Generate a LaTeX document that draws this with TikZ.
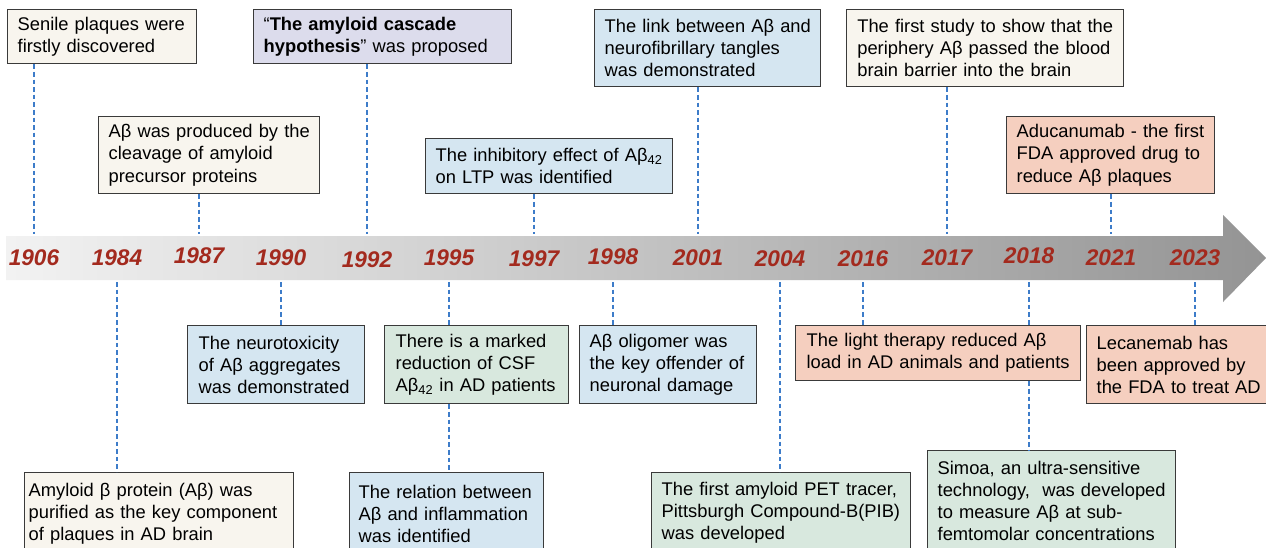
\documentclass[tikz,border=0pt]{standalone}
\usepackage{fontspec}
\setmainfont{Liberation Sans}
\definecolor{cream}{HTML}{F8F5EE}
\definecolor{lavender}{HTML}{DCDCEC}
\definecolor{lblue}{HTML}{D5E6F1}
\definecolor{lgreen}{HTML}{D8E8DE}
\definecolor{salmon}{HTML}{F5CFBF}
\definecolor{bordercol}{HTML}{3A3A3A}
\definecolor{dashblue}{HTML}{3D7CC9}
\definecolor{yearred}{HTML}{A32A1E}
\newcommand\BL[1]{\mbox{#1}}
\begin{document}
\begin{tikzpicture}[x=0.75pt,y=-0.75pt,
  box/.style={draw=bordercol, line width=1pt, anchor=north west, align=left,
    inner ysep=0pt, font=\fontsize{13.75}{16.6}\selectfont},
  year/.style={font=\fontsize{17}{17}\selectfont\bfseries\itshape, text=yearred, inner sep=0pt},
  conn/.style={draw=dashblue, line width=1.1pt, dash pattern=on 3.5pt off 2.2pt}]
\useasboundingbox (0,0) rectangle (1266,547);
\fill[white] (0,0) rectangle (1266,547);
% arrow
\shade[left color=black!5, right color=black!42]
  (6,236) -- (1223,236) -- (1223,215) -- (1266,258) -- (1223,302) -- (1223,280) -- (6,280) -- cycle;
\coordinate (atop) at (0,234);
\coordinate (abot) at (0,282);
% years
\node[year] (y1906) at (34,258) {1906};
\node[year] (y1984) at (117,258) {1984};
\node[year] (y1987) at (199,256) {1987};
\node[year] (y1990) at (281,258) {1990};
\node[year] (y1992) at (367,260) {1992};
\node[year] (y1995) at (449,258) {1995};
\node[year] (y1997) at (534,259) {1997};
\node[year] (y1998) at (613,257) {1998};
\node[year] (y2001) at (698,258) {2001};
\node[year] (y2004) at (780,259) {2004};
\node[year] (y2016) at (863,259) {2016};
\node[year] (y2017) at (947,258) {2017};
\node[year] (y2018) at (1029,256) {2018};
\node[year] (y2021) at (1111,258) {2021};
\node[year] (y2023) at (1195,258) {2023};
% top boxes
\node[box, fill=cream, inner xsep=7.5pt, text width=126.75pt, minimum height=40.5pt] (senile) at (7,9)
  {\BL{Senile plaques were}\\\BL{firstly discovered}};
\node[box, fill=lavender, inner xsep=7.5pt, text width=178.5pt, minimum height=40.5pt] (cascade) at (253,9)
  {\BL{“\textbf{The amyloid cascade}}\\\BL{\textbf{hypothesis}” was proposed}};
\node[box, fill=lblue, inner xsep=7.5pt, text width=154.5pt, minimum height=57.75pt] (link) at (594,9)
  {\BL{The link between Aβ and}\\\BL{neurofibrillary tangles}\\\BL{was demonstrated}};
\node[box, fill=cream, inner xsep=8pt, text width=191.75pt, minimum height=57.75pt] (first) at (846,9)
  {\BL{The first study to show that the}\\\BL{periphery Aβ passed the blood}\\\BL{brain barrier into the brain}};
\node[box, fill=cream, inner xsep=7.5pt, text width=150.75pt, minimum height=57.75pt] (produced) at (98,116)
  {\BL{Aβ was produced by the}\\\BL{cleavage of amyloid}\\\BL{precursor proteins}};
\node[box, fill=lblue, inner xsep=7.5pt, text width=170.25pt, minimum height=41.25pt] (inhib) at (425,138)
  {\BL{The inhibitory effect of Aβ\textsubscript{42}}\\\BL{on LTP was identified}};
\node[box, fill=salmon, inner xsep=7.5pt, text width=141pt, minimum height=57.75pt] (adu) at (1006,116)
  {\BL{Aducanumab - the first}\\\BL{FDA approved drug to}\\\BL{reduce Aβ plaques}};
% middle-bottom boxes
\node[box, fill=lblue, inner xsep=8.25pt, text width=116.25pt, minimum height=58.5pt] (neuro) at (187,325)
  {\BL{The neurotoxicity}\\\BL{of Aβ aggregates}\\\BL{was demonstrated}};
\node[box, fill=lgreen, inner xsep=8.25pt, text width=121.5pt, minimum height=58.5pt] (marked) at (384,325)
  {\BL{There is a marked}\\\BL{reduction of CSF}\\\BL{Aβ\textsubscript{42} in AD patients}};
\node[box, fill=lblue, inner xsep=7.5pt, text width=117.75pt, minimum height=58.5pt] (olig) at (579,325)
  {\BL{Aβ oligomer was}\\\BL{the key offender of}\\\BL{neuronal damage}};
\node[box, fill=salmon, inner xsep=8.25pt, text width=197.25pt, minimum height=41.25pt] (light) at (795,325)
  {\BL{The light therapy reduced Aβ}\\\BL{load in AD animals and patients}};
\node[box, fill=salmon, inner xsep=7.5pt, text width=120pt, minimum height=58.5pt] (leca) at (1086,325)
  {\BL{Lecanemab has}\\\BL{been approved by}\\\BL{the FDA to treat AD}};
% bottom boxes
\node[box, fill=cream, inner xsep=3pt, text width=195.75pt, minimum height=61.5pt] (protein) at (24,472)
  {\BL{Amyloid β protein (Aβ) was}\\\BL{purified as the key component}\\\BL{of plaques in AD brain}};
\node[box, fill=lblue, inner xsep=6.75pt, text width=132pt, minimum height=61.5pt] (relation) at (349,472)
  {\BL{The relation between}\\\BL{Aβ and inflammation}\\\BL{was identified}};
\node[box, fill=lgreen, inner xsep=7.5pt, text width=179.25pt, minimum height=60pt] (pet) at (651,472)
  {\BL{The first amyloid PET tracer,}\\\BL{Pittsburgh Compound-B(PIB)}\\\BL{was developed}};
\node[box, fill=lgreen, inner xsep=7.5pt, text width=171pt, minimum height=75.75pt] (simoa) at (927,450)
  {\BL{Simoa, an ultra-sensitive}\\\BL{technology,\ \ was developed}\\\BL{to measure Aβ at sub-}\\\BL{femtomolar concentrations}};
% connectors (top)
\draw[conn] (senile.south -| y1906) -- (atop -| y1906);
\draw[conn] (produced.south -| y1987) -- (atop -| y1987);
\draw[conn] (cascade.south -| y1992) -- (atop -| y1992);
\draw[conn] (inhib.south -| y1997) -- (atop -| y1997);
\draw[conn] (link.south -| y2001) -- (atop -| y2001);
\draw[conn] (first.south -| y2017) -- (atop -| y2017);
\draw[conn] (adu.south -| y2021) -- (atop -| y2021);
% connectors (bottom)
\draw[conn] (abot -| y1984) -- (protein.north -| y1984);
\draw[conn] (abot -| y1990) -- (neuro.north -| y1990);
\draw[conn] (abot -| y1995) -- (marked.north -| y1995);
\draw[conn] (marked.south -| y1995) -- (relation.north -| y1995);
\draw[conn] (abot -| y1998) -- (olig.north -| y1998);
\draw[conn] (abot -| y2004) -- (pet.north -| y2004);
\draw[conn] (abot -| y2016) -- (light.north -| y2016);
\draw[conn] (abot -| y2018) -- (light.north -| y2018);
\draw[conn] (light.south -| y2018) -- (simoa.north -| y2018);
\draw[conn] (abot -| y2023) -- (leca.north -| y2023);
\end{tikzpicture}
\end{document}
